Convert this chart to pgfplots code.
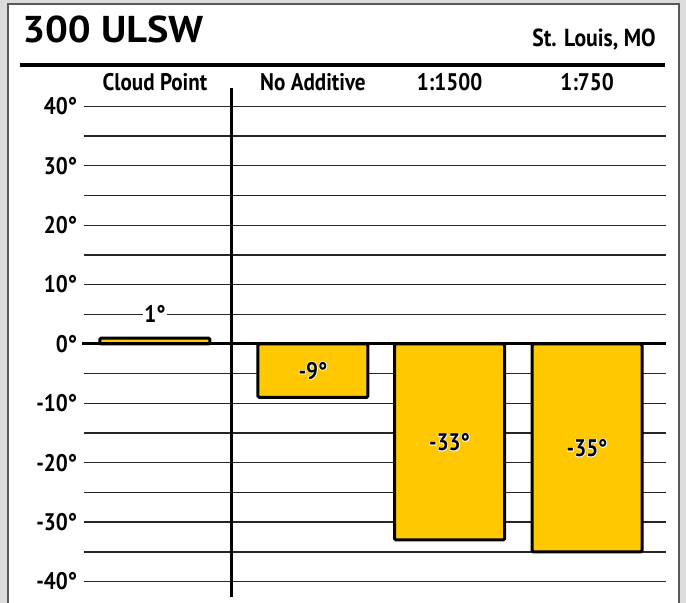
\documentclass[border=0pt]{standalone}
\usepackage{pgfplots}
\pgfplotsset{compat=1.18}
\usepackage{fontspec}
\setmainfont{PT Sans}
\newfontfamily\cond{PT Sans}[FakeStretch=0.88]
\newfontfamily\condhalo{PT Sans}[FakeStretch=0.88, FakeBold=6]
\newfontfamily\wide{PT Sans}[FakeStretch=1.08]
\definecolor{gold}{HTML}{FFC800}
\definecolor{bgray}{HTML}{DCDCDC}
\newcommand\lab{\cond\bfseries\fontsize{18}{18}\selectfont}
\newcommand\halo[1]{\makebox[0pt][l]{\condhalo\bfseries\fontsize{18}{18}\selectfont\color{white}#1}#1}
\begin{document}
\begin{tikzpicture}[x=0.75pt,y=0.75pt]
\fill[bgray] (0,0) rectangle (686,603);
\useasboundingbox (0,0) rectangle (686,603);
\fill[white, draw=black!65, line width=1.5pt] (8,-10) rectangle (679,599);
\begin{axis}[
  at={(63pt,4.5pt)}, anchor=south west,
  scale only axis, width=436.5pt, height=381.75pt,
  xmin=-0.516, xmax=3.716, ymin=-42.6, ymax=43.1,
  clip=false,
  ybar, bar width=82.5pt,
  axis line style={draw=none}, tick style={draw=none},
  xtick=\empty,
  ytick={-40,-30,...,40}, minor ytick={-35,-25,...,35},
  ymajorgrids, yminorgrids,
  major grid style={black!85, line width=1pt},
  minor grid style={black!85, line width=1pt},
  /pgf/number format/assume math mode=true,
  yticklabel={\pgfmathprintnumber{\tick}°},
  yticklabel style={font=\lab, anchor=east, inner sep=0pt, xshift=-5pt},
]
\addplot[fill=gold, draw=black, line width=2.25pt, rounded corners=1pt]
  coordinates {(0,1) (1.149,-9) (2.142,-33) (3.142,-35)};
\draw[line width=2.25pt] (axis cs:-0.53,0) -- (axis cs:3.716,0);
\draw[line width=2.25pt] (axis cs:0.56,-42.6) -- (axis cs:0.56,43.1);
\node[font=\lab, fill=white, inner sep=1pt] at (axis cs:0,5) {1°};
\node[font=\lab] at (axis cs:1.149,-4.5) {\halo{-9°}};
\node[font=\lab] at (axis cs:2.142,-16.5) {\halo{-33°}};
\node[font=\lab] at (axis cs:3.142,-17.5) {\halo{-35°}};
\node[font=\lab, anchor=base] at (axis cs:0,42.6) {Cloud Point};
\node[font=\lab, anchor=base] at (axis cs:1.149,42.6) {No Additive};
\node[font=\lab, anchor=base] at (axis cs:2.142,42.6) {1:1500};
\node[font=\lab, anchor=base] at (axis cs:3.142,42.6) {1:750};
\end{axis}
\node[anchor=base west, inner sep=0pt, font=\wide\bfseries\fontsize{28}{28}\selectfont] at (22,560) {300 ULSW};
\node[anchor=base east, inner sep=0pt, font=\cond\bfseries\fontsize{18.5}{18.5}\selectfont] at (656,556) {St. Louis, MO};
\draw[line width=3pt] (20,538) -- (665,538);
\end{tikzpicture}
\end{document}
